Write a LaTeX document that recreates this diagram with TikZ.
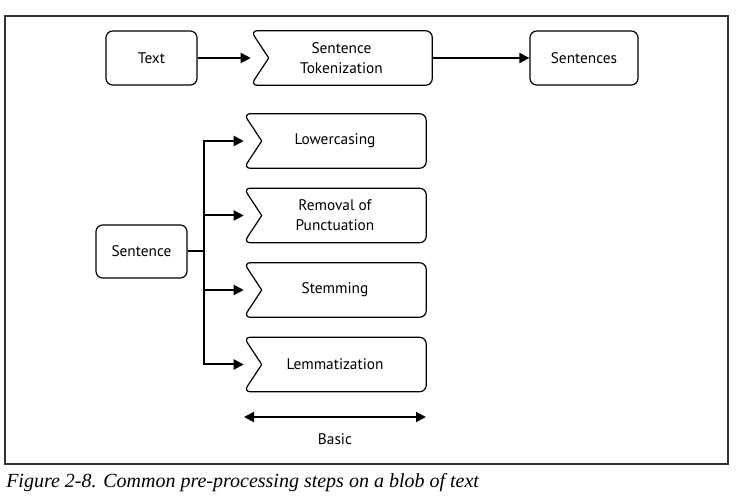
\documentclass[tikz,border=0pt]{standalone}
\usepackage{fontspec}
\setmainfont{Liberation Serif}
\newfontfamily\boxfont{PT Sans}
\usetikzlibrary{arrows.meta}

\tikzset{
  plainbox/.style={draw, line width=0.9pt, rounded corners=5pt, align=center,
    minimum height=40.5pt, inner sep=1pt, font=\boxfont\fontsize{11.5}{15}\selectfont},
  notchbox/.style={align=center, minimum height=40.5pt, minimum width=136.5pt,
    inner sep=1pt, font=\boxfont\fontsize{11.5}{15}\selectfont,
    append after command={\pgfextra{\draw[line width=0.9pt, line cap=round, rounded corners=5pt]
      ([xshift=13.5pt]\tikzlastnode.west) -- (\tikzlastnode.north west)
      -- (\tikzlastnode.north east) -- (\tikzlastnode.south east)
      -- (\tikzlastnode.south west) -- ([xshift=13.5pt]\tikzlastnode.west);}}},
  flow/.style={line width=1.5pt, -{Triangle[length=7.5pt,width=7.5pt]}}
}

\begin{document}
\begin{tikzpicture}[x=0.75pt,y=0.75pt,yscale=-1,xscale=1]
\useasboundingbox (0,0) rectangle (744,499);

% frame
\draw [line width=0.9pt, black!80] (5,16) rectangle (728,464);

% top row
\node [plainbox, minimum width=68.25pt] (text) at (151.5,58) {Text};
\node [notchbox, minimum width=135.75pt] (tok) at (341.5,58) {Sentence\\Tokenization};
\node [plainbox, minimum width=81pt] (sents) at (584,58) {Sentences};

\draw [flow] (text) -- (tok.west);
\draw [flow] (tok) -- (sents);

% preprocessing steps
\node [plainbox, minimum width=68.25pt, minimum height=39.75pt] (sentence) at (141.5,251.5) {Sentence};

\node [notchbox] (lower) at (335,141) {Lowercasing};
\node [notchbox] (punct) at (335,215.5) {Removal of\\Punctuation};
\node [notchbox] (stem) at (335,290) {Stemming};
\node [notchbox] (lemma) at (335,364.5) {Lemmatization};

\foreach \s in {lower,punct,stem,lemma}
  \draw [flow] (sentence.east) -- ++(16,0) |- (\s.west);

% range
\coordinate (basicL) at (244,417);
\coordinate (basicR) at (426,417);
\draw [line width=1.5pt, {Triangle[length=7.5pt,width=7.5pt]}-{Triangle[length=7.5pt,width=7.5pt]}] (basicL) -- (basicR);
\node [font=\boxfont\fontsize{11.5}{15}\selectfont] (basic) at (335,439) {Basic};

% caption
\node [anchor=west, inner sep=0pt, font=\itshape\fontsize{15}{17}\selectfont] (cap) at (6,483) {Figure 2-8. Common pre-processing steps on a blob of text};

\end{tikzpicture}
\end{document}
